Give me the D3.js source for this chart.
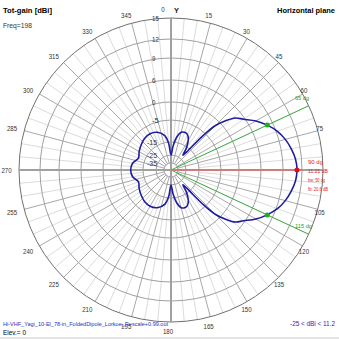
<!DOCTYPE html>
<html><head><meta charset="utf-8">
<script src="https://cdn.jsdelivr.net/npm/d3@7"></script>
<style>body{margin:0;background:#fff}svg{display:block}text{font-family:"Liberation Sans Narrow","Arial Narrow",Arial,"Liberation Sans",sans-serif}</style>
</head><body><svg id="c" width="339" height="339"></svg>
<script>
// ring values (dBi) and their labels
const ringValues = [15, 12, 9, 6, 0, -5, -15, -25, -35];
const ringLabels = ["15", "12", "9", "6", "0", "-5", "-15", "-25", "-35"];
const ringRadii = [152, 131, 112, 90, 68, 50, 28, 15, 7];
// angle labels (compass bearings)
const angleTicks = [0, 15, 30, 45, 60, 75, 105, 120, 135, 150, 165, 180, 195, 210, 225, 240, 255, 270, 285, 300, 315, 330, 345];
// top-half pattern: bearing (deg, -90..90) and gain (dBi); mirrored about 90-270 axis
const bearings = [-90, -80, -70, -60, -50, -40, -30, -20, -10, -5, 0, 5, 10, 15, 20, 25, 30, 35, 39, 41, 43, 45, 48, 51, 55, 60, 65, 70, 75, 80, 85, 90];
const gains = [-9.4, -10, -12, -11, -10, -9, -8.7, -9.5, -12, -16, -25, -18, -12.5, -10, -9.5, -10, -12, -16, -22, -18, -6, -1.4, 1.5, 4, 5.6, 7.1, 8.2, 9.2, 10.0, 10.6, 11.05, 11.21];
const maxBearing = 90, maxGain = 11.21, bw = 50, fb = 20.6;
const beamEdges = [65, 115];

const svg = d3.select("#c");
svg.append("rect").attr("x", 0).attr("y", 337).attr("width", 339).attr("height", 2).attr("fill", "#e4e4e4");
const cx = 171, cy = 170;
const r = d3.scaleLinear().domain(ringValues.slice().reverse()).range(ringRadii.slice().reverse()).clamp(true);
const R = r(15);
const g = svg.append("g").attr("transform", `translate(${cx},${cy})`);
const rad = d => d * Math.PI / 180;
const px = (b, rr) => [rr * Math.sin(rad(b)), -rr * Math.cos(rad(b))];
const txt = (sel, s, w) => sel.text(s).attr("textLength", w).attr("lengthAdjust", "spacingAndGlyphs");

// minor spokes
for (let b = 0; b < 360; b += 5) {
  if (b % 15 === 0) continue;
  const a = px(b, r(-15)), c = px(b, R);
  g.append("line").attr("x1", a[0]).attr("y1", a[1]).attr("x2", c[0]).attr("y2", c[1]).attr("stroke", "#dcdcdc").attr("stroke-width", 1);
}
// major spokes
for (let b = 0; b < 360; b += 15) {
  if (b % 90 === 0) continue;
  const a = px(b, r(-35)), c = px(b, R);
  g.append("line").attr("x1", a[0]).attr("y1", a[1]).attr("x2", c[0]).attr("y2", c[1]).attr("stroke", "#a8a8a8").attr("stroke-width", 1);
}
// rings
ringValues.forEach((v, i) => {
  g.append("circle").attr("r", r(v)).attr("fill", "none").attr("stroke", i === 0 ? "#707070" : "#a0a0a0").attr("stroke-width", 1);
});
// axes
g.append("line").attr("x1", 0).attr("y1", -R).attr("x2", 0).attr("y2", R).attr("stroke", "#a0a0a0").attr("stroke-width", 2);
g.append("line").attr("x1", -R).attr("y1", 0).attr("x2", R).attr("y2", 0).attr("stroke", "#a0a0a0").attr("stroke-width", 2);

// ring labels
ringValues.forEach((v, i) => {
  const s = ringLabels[i];
  const x = s.length >= 3 ? -24 : -19;
  txt(g.append("text").attr("x", x).attr("y", -r(v) + 3).attr("font-size", 7).attr("fill", "#333"), s, s.length * 3.4);
});

// angle labels
angleTicks.forEach(b => {
  const s = String(b);
  const w = s.length * 3.4;
  const sn = Math.sin(rad(b)), cs = Math.cos(rad(b));
  let x = 157 * sn - 3 + Math.min(0, 4.5 * sn);
  let y = -161 * cs;
  if (b === 0) x = -8;
  txt(g.append("text").attr("x", x).attr("y", y + 3).attr("text-anchor", "middle").attr("font-size", 7).attr("fill", "#333"), s, w);
});
txt(g.append("text").attr("x", 3).attr("y", -157).attr("font-size", 8).attr("font-weight", "bold").attr("fill", "#222"), "Y", 5);

// beam lines
beamEdges.forEach(b => {
  const c = px(b, R);
  g.append("line").attr("x1", 0).attr("y1", 0).attr("x2", c[0]).attr("y2", c[1]).attr("stroke", "#3cb043").attr("stroke-width", 1);
});
{
  const c = px(maxBearing, R - 20);
  g.append("line").attr("x1", 0).attr("y1", 0).attr("x2", c[0]).attr("y2", c[1]).attr("stroke", "#e07070").attr("stroke-width", 1.5);
}

// pattern
const pts = [];
bearings.forEach((b, i) => pts.push([b, gains[i]]));
for (let i = bearings.length - 2; i >= 1; i--) pts.push([180 - bearings[i], gains[i]]);
const line = d3.lineRadial().angle(d => rad(d[0])).radius(d => r(d[1])).curve(d3.curveCatmullRomClosed.alpha(0.5));
g.append("path").attr("d", line(pts)).attr("fill", "none").attr("stroke", "#1c1ca0").attr("stroke-width", 1.6);

// dots
beamEdges.forEach(b => {
  const c = px(b, r(maxGain - 3));
  g.append("circle").attr("cx", c[0]).attr("cy", c[1]).attr("r", 2.5).attr("fill", "#22aa22");
});
{
  const c = px(maxBearing, r(maxGain));
  g.append("circle").attr("cx", c[0]).attr("cy", c[1]).attr("r", 2.5).attr("fill", "#e01010");
}
// beam labels
txt(g.append("text").attr("x", 124).attr("y", -70).attr("font-size", 6).attr("fill", "#2a9a2a"), beamEdges[0] + " dg", 14);
txt(g.append("text").attr("x", 124).attr("y", 58).attr("font-size", 6).attr("fill", "#2a9a2a"), beamEdges[1] + " dg", 17);
const redT = [maxBearing + " dg", maxGain.toFixed(2) + " dB", "bw: " + bw + " dg", "fb: " + fb + " dB"];
const redW = [15, 20, 17, 20];
redT.forEach((t, i) => txt(g.append("text").attr("x", 137).attr("y", -6 + i * 9).attr("font-size", 6).attr("fill", "#e02020"), t, redW[i]));

// titles
txt(svg.append("text").attr("x", 3).attr("y", 13).attr("font-size", 8).attr("font-weight", "bold"), "Tot-gain [dBi]", 49);
txt(svg.append("text").attr("x", 3).attr("y", 28).attr("font-size", 7).attr("fill", "#333"), "Freq=198", 29);
txt(svg.append("text").attr("x", 335).attr("y", 13).attr("text-anchor", "end").attr("font-size", 8).attr("font-weight", "bold"), "Horizontal plane", 58);
txt(svg.append("text").attr("x", 3).attr("y", 326).attr("font-size", 6).attr("fill", "#2030c0"), "Hi-VHF_Yagi_10-El_78-in_FoldedDipole_Lorkoe_Rescale+0.99.out", 165);
txt(svg.append("text").attr("x", 3).attr("y", 335).attr("font-size", 8).attr("fill", "#000"), "Elev.= 0", 23);
txt(svg.append("text").attr("x", 335).attr("y", 326).attr("text-anchor", "end").attr("font-size", 7).attr("fill", "#2030c0"), "-25 < dBi < 11.2", 45);
</script></body></html>
